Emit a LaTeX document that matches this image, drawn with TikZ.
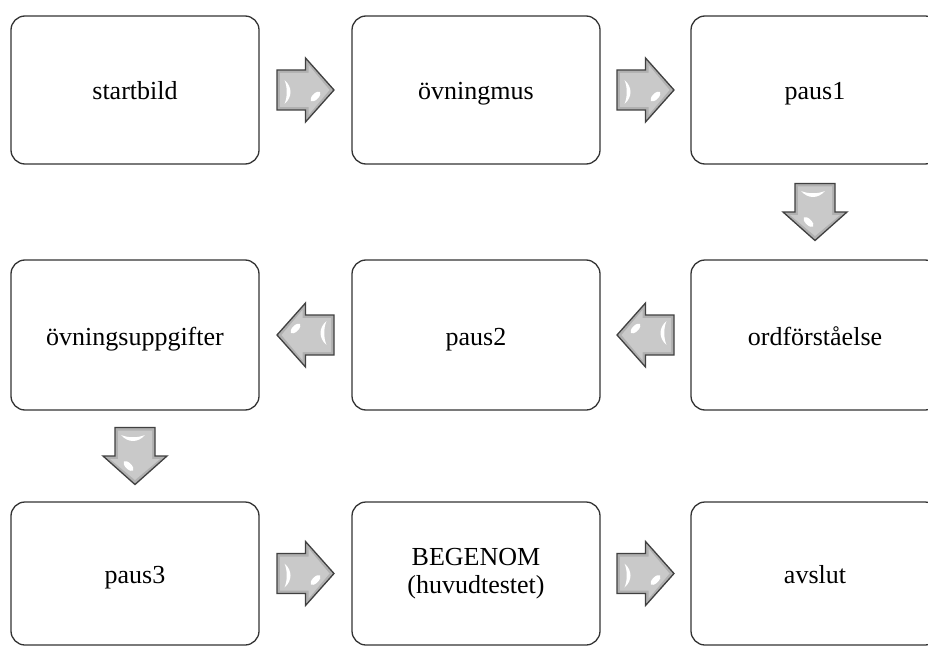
\documentclass[tikz,border=0pt]{standalone}
\usepackage{fontspec}
\setmainfont{Liberation Serif}
\usetikzlibrary{calc}
\tikzset{
  box/.style={draw=black!80, line width=1.3pt, rounded corners=14pt, minimum width=248pt,
    minimum height=148pt, inner sep=0pt, align=center, text=black,
    font=\fontsize{26}{28}\selectfont},
  oneline/.style={box, text height=24pt, text depth=4pt},
  fatarrow/.pic={
    \fill[gray!62] (-28.5,-20) -- (0,-20) -- (0,-32) -- (28.5,0) -- (0,32) -- (0,20) -- (-28.5,20) -- cycle;
    \fill[gray!42] (-25.5,-17) -- (3,-17) -- (3,-25) -- (24,0) -- (3,25) -- (3,17) -- (-25.5,17) -- cycle;
    \fill[white] (-21,-10) .. controls (-13,-3) and (-13,7) .. (-21,14) .. controls (-18,7) and (-18,-3) .. (-21,-10) -- cycle;
    \fill[white, rotate around={45:(10,6.5)}] (10,6.5) ellipse [x radius=6.5pt, y radius=3pt];
    \draw[black!75, line width=1.3pt, line join=miter] (-28.5,-20) -- (0,-20) -- (0,-32) -- (28.5,0) -- (0,32) -- (0,20) -- (-28.5,20) -- cycle;
  }
}
\begin{document}
\begin{tikzpicture}[x=1pt, y=-1pt]
\useasboundingbox (0,0) rectangle (928,647);
\clip (0,0) rectangle (928,647);
\fill[white] (0,0) rectangle (928,647);
% row 1
\node[oneline] (b1) at (135,90) {startbild};
\node[oneline] (b2) at (476,90) {övningmus};
\node[oneline] (b3) at (815,90) {paus1};
% row 2
\node[oneline, minimum height=150pt] (b4) at (815,335) {ordförståelse};
\node[oneline, minimum height=150pt] (b5) at (476,335) {paus2};
\node[oneline, minimum height=150pt] (b6) at (135,335) {övningsuppgifter};
% row 3
\node[oneline, minimum height=143pt] (b7) at (135,573.5) {paus3};
\node[box, minimum height=143pt] (b8) at (476,573.5) {BEGENOM\\[0pt](huvudtestet)};
\node[oneline, minimum height=143pt] (b9) at (815,573.5) {avslut};
% arrows
\pic at ($(b1.east)!0.5!(b2.west)$) {fatarrow};
\pic at ($(b2.east)!0.5!(b3.west)$) {fatarrow};
\pic[rotate=-90] at ($(b3.south)!0.5!(b4.north)$) {fatarrow};
\pic[rotate=180] at ($(b4.west)!0.5!(b5.east)$) {fatarrow};
\pic[rotate=180] at ($(b5.west)!0.5!(b6.east)$) {fatarrow};
\pic[rotate=-90] at ($(b6.south)!0.5!(b7.north)$) {fatarrow};
\pic at ($(b7.east)!0.5!(b8.west)$) {fatarrow};
\pic at ($(b8.east)!0.5!(b9.west)$) {fatarrow};
\end{tikzpicture}
\end{document}
